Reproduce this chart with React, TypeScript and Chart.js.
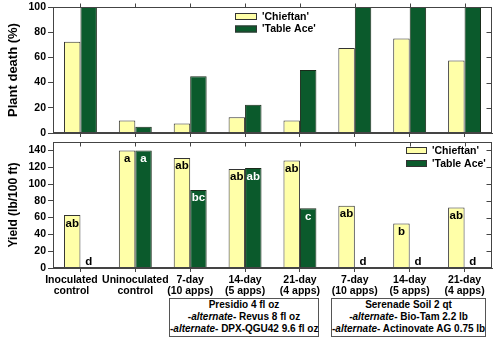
import React, { useEffect, useRef } from "react";
import { Chart, registerables } from "chart.js";

Chart.register(...registerables);

const categories: string[][] = [
  ["Inoculated", "control"],
  ["Uninoculated", "control"],
  ["7-day", "(10 apps)"],
  ["14-day", "(5 apps)"],
  ["21-day", "(4 apps)"],
  ["7-day", "(10 apps)"],
  ["14-day", "(5 apps)"],
  ["21-day", "(4 apps)"],
];
const seriesNames = ["'Chieftan'", "'Table Ace'"];
const deathChieftan = [72.5, 10, 7.5, 12.5, 10, 67.5, 75, 57.5];
const deathTableAce = [100, 5, 45, 22.5, 50, 100, 100, 100];
const yieldChieftan = [63, 140, 131, 118, 128, 74, 53, 72];
const yieldTableAce = [0, 140, 93, 119, 71, 0, 0, 0];
const lettersChieftan = ["ab", "a", "ab", "ab", "ab", "ab", "b", "ab"];
const lettersTableAce = ["d", "a", "bc", "ab", "c", "d", "d", "d"];
const deathTicks = [0, 20, 40, 60, 80, 100];
const yieldTicks = [0, 20, 40, 60, 80, 100, 120, 140];
const presidioLines = ["Presidio 4 fl oz", "Revus 8 fl oz", "DPX-QGU42 9.6 fl oz"];
const serenadeLines = ["Serenade Soil 2 qt", "Bio-Tam 2.2 lb", "Actinovate AG 0.75 lb"];

const FONT = '"Liberation Sans", Arial, sans-serif';
const YELLOW = "#FFFFA8";
const GREEN = "#0B5A2C";
const AXIS = "#444";
// horizontal nudge of the first category label (keeps it inside the figure)
const LABEL_SHIFT = [-9, 0, 0, 0, 0, 0, 0, 0];

const framePlugin = {
  id: "frame",
  afterDraw(chart: any, _args: any, opts: any) {
    const ctx = chart.ctx;
    const a = chart.chartArea;
    const L = Math.round(a.left) + 0.5;
    const R = Math.round(a.right) - 0.5;
    const T = Math.round(a.top) + 0.5;
    const B = Math.round(a.bottom) - 0.5;
    ctx.save();
    ctx.strokeStyle = AXIS;
    ctx.lineWidth = 1;
    ctx.strokeRect(L, T, R - L, B - T);
    const ys = chart.scales.y;
    ctx.beginPath();
    ys.ticks.forEach((t: any) => {
      const py = Math.round(ys.getPixelForValue(t.value)) + 0.5;
      ctx.moveTo(R, py);
      ctx.lineTo(R - 5, py);
    });
    const xs = chart.scales.x;
    const dir = opts.topTickDir || -1;
    for (let i = 0; i < categories.length; i++) {
      const px = Math.round(xs.getPixelForValue(i)) + 0.5;
      ctx.moveTo(px, T);
      ctx.lineTo(px, T + dir * 4);
    }
    ctx.stroke();

    if (opts.showLabels) {
      ctx.font = `bold 10.5px ${FONT}`;
      ctx.fillStyle = "#000";
      ctx.textAlign = "center";
      ctx.textBaseline = "alphabetic";
      categories.forEach((lines, i) => {
        const px = xs.getPixelForValue(i) + LABEL_SHIFT[i];
        lines.forEach((ln, j) => {
          ctx.fillText(ln, px, a.bottom + 15 + j * 10.5);
        });
      });
    }

    const lg = opts.legend;
    if (lg) {
      ctx.font = `bold 10.5px ${FONT}`;
      ctx.textBaseline = "middle";
      ctx.textAlign = "left";
      [YELLOW, GREEN].forEach((c, i) => {
        const by = lg.y + i * lg.gap;
        ctx.fillStyle = c;
        ctx.fillRect(lg.x, by, lg.w, 7);
        ctx.strokeStyle = "#333";
        ctx.strokeRect(lg.x + 0.5, by + 0.5, lg.w - 1, 6);
        ctx.fillStyle = "#000";
        ctx.fillText(seriesNames[i], lg.x + lg.w + 5, by + 4);
      });
    }
    ctx.restore();
  },
};

const lettersPlugin = {
  id: "letters",
  afterDatasetsDraw(chart: any, _args: any, opts: any) {
    if (!opts.enabled) return;
    const ctx = chart.ctx;
    const sets = [lettersChieftan, lettersTableAce];
    ctx.save();
    ctx.font = `bold 11.5px ${FONT}`;
    ctx.textAlign = "center";
    ctx.textBaseline = "alphabetic";
    chart.data.datasets.forEach((ds: any, di: number) => {
      const meta = chart.getDatasetMeta(di);
      meta.data.forEach((bar: any, i: number) => {
        const v = ds.data[i];
        const txt = sets[di][i];
        if (v > 0) {
          ctx.fillStyle = di === 0 ? "#000" : "#fff";
          ctx.fillText(txt, bar.x, bar.y + 11.5);
        } else {
          ctx.fillStyle = "#000";
          ctx.fillText(txt, bar.x, bar.base - 3);
        }
      });
    });
    ctx.restore();
  },
};

function makeConfig(kind: "death" | "yield"): any {
  const isDeath = kind === "death";
  const tickList = isDeath ? deathTicks : yieldTicks;
  return {
    type: "bar",
    data: {
      labels: categories,
      datasets: [
        {
          label: seriesNames[0],
          data: isDeath ? deathChieftan : yieldChieftan,
          backgroundColor: YELLOW,
          borderColor: "#333",
          borderWidth: 1,
          borderSkipped: "start",
          categoryPercentage: 0.6,
          barPercentage: 1,
        },
        {
          label: seriesNames[1],
          data: isDeath ? deathTableAce : yieldTableAce,
          backgroundColor: GREEN,
          borderColor: "#1a2a1a",
          borderWidth: 1,
          borderSkipped: "start",
          categoryPercentage: 0.6,
          barPercentage: 1,
        },
      ],
    },
    options: {
      responsive: false,
      animation: false,
      layout: { padding: { left: 0, right: 8, top: isDeath ? 7 : 2, bottom: 0 } },
      plugins: {
        legend: { display: false },
        tooltip: { enabled: false },
        frame: isDeath
          ? { legend: { x: 235, y: 13, w: 22, gap: 12.5 }, topTickDir: -1, showLabels: false }
          : { legend: { x: 406, y: 7, w: 21, gap: 13 }, topTickDir: 1, showLabels: true },
        letters: { enabled: !isDeath },
      },
      scales: {
        x: {
          type: "category",
          grid: { offset: false, drawOnChartArea: false, tickLength: 4, color: AXIS },
          border: { color: AXIS },
          ticks: { display: false },
          afterFit: (s: any) => {
            s.height = isDeath ? 7 : 32;
            s.paddingLeft = 0;
            s.paddingRight = 0;
          },
        },
        y: {
          min: 0,
          max: isDeath ? 100 : 150,
          afterBuildTicks: (s: any) => {
            s.ticks = tickList.map((v) => ({ value: v }));
          },
          afterFit: (s: any) => {
            s.width = 53;
            s.paddingTop = 0;
            s.paddingBottom = 0;
          },
          grid: { drawOnChartArea: false, tickLength: 5, color: AXIS },
          border: { color: AXIS },
          ticks: {
            padding: 2,
            color: "#000",
            font: { family: FONT, size: 10.5, weight: "bold" },
          },
          title: {
            display: true,
            text: isDeath ? "Plant death (%)" : "Yield (lb/100 ft)",
            color: "#000",
            font: { family: FONT, size: isDeath ? 13 : 12, weight: "bold" },
            padding: { top: 6, bottom: 0 },
          },
        },
      },
    },
    plugins: [framePlugin, lettersPlugin],
  };
}

function GroupBox({ lines, left, width }: { lines: string[]; left: number; width: number }) {
  return (
    <div
      style={{
        position: "absolute",
        left,
        top: 298,
        width,
        height: 39,
        boxSizing: "border-box",
        border: "1px solid #555",
        background: "#fff",
        fontFamily: FONT,
        fontWeight: "bold",
        fontSize: "10px",
        lineHeight: "12px",
        textAlign: "center",
        color: "#000",
        whiteSpace: "nowrap",
      }}
    >
      <div>{lines[0]}</div>
      <div>
        -<i>alternate</i>- {lines[1]}
      </div>
      <div>
        -<i>alternate</i>- {lines[2]}
      </div>
    </div>
  );
}

export default function App() {
  const topRef = useRef<HTMLCanvasElement | null>(null);
  const botRef = useRef<HTMLCanvasElement | null>(null);

  useEffect(() => {
    const c1 = new Chart(topRef.current as HTMLCanvasElement, makeConfig("death"));
    const c2 = new Chart(botRef.current as HTMLCanvasElement, makeConfig("yield"));
    return () => {
      c1.destroy();
      c2.destroy();
    };
  }, []);

  return (
    <div
      style={{
        position: "absolute",
        left: 0,
        top: 0,
        width: 500,
        height: 340,
        background: "#fff",
        overflow: "hidden",
      }}
    >
      <canvas
        ref={topRef}
        width={500}
        height={140}
        style={{ position: "absolute", left: 0, top: 0, width: 500, height: 140 }}
      />
      <canvas
        ref={botRef}
        width={500}
        height={160}
        style={{ position: "absolute", left: 0, top: 140, width: 500, height: 160 }}
      />
      <GroupBox lines={presidioLines} left={169} width={150} />
      <GroupBox lines={serenadeLines} left={331} width={155} />
    </div>
  );
}
